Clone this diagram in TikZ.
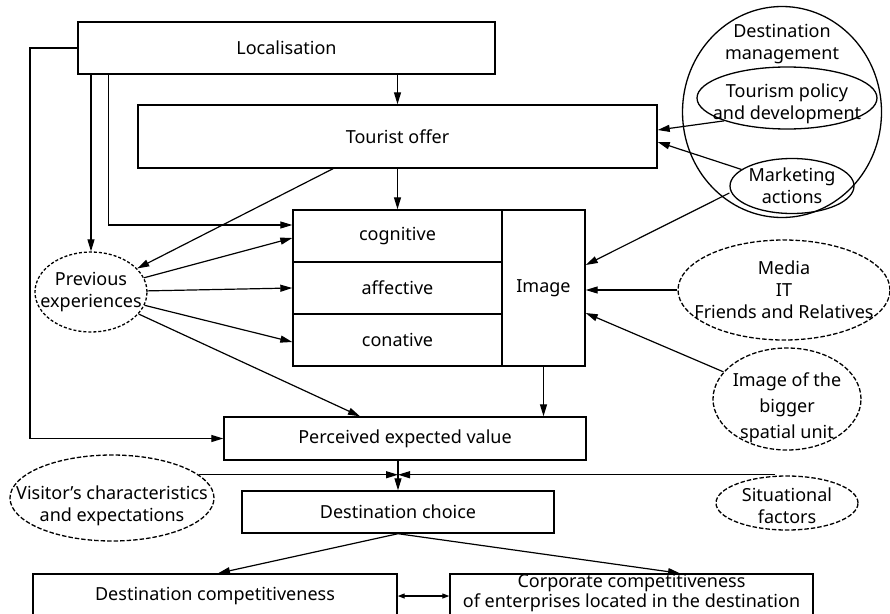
\documentclass[tikz,border=0pt]{standalone}
\usepackage{fontspec}
\setmainfont{Noto Sans}
\usetikzlibrary{shapes.geometric}
\usetikzlibrary{arrows.meta}

\tikzset{
  box/.style={draw, line width=1.4pt, inner sep=0pt, align=center},
  oval/.style={draw, ellipse, line width=1.3pt, inner sep=0pt},
  dashoval/.style={oval, dash pattern=on 4.5pt off 2pt},
  dotoval/.style={oval, dash pattern=on 3pt off 2pt},
  txt/.style={align=center, inner sep=0pt},
  arr/.style={line width=1.2pt, -{Triangle[length=12pt,width=7pt]}},
  darr/.style={line width=1.2pt, {Triangle[length=7pt,width=5pt]}-{Triangle[length=7pt,width=5pt]}},
}

\begin{document}
\begin{tikzpicture}[x=1pt, y=-1pt, font=\fontsize{18}{22}\selectfont]
  \useasboundingbox (0,0) rectangle (890,613);
  \clip (0,0) rectangle (890,613);

  \node[box, minimum width=417pt, minimum height=52pt] (loc) at (286.5,48) {Localisation};
  \node[box, minimum width=519pt, minimum height=63pt] (offer) at (397.5,136.5) {Tourist offer};
  \node[box, minimum width=209pt, minimum height=52pt] (cog) at (397.5,236) {cognitive};
  \node[box, minimum width=209pt, minimum height=52pt] (aff) at (397.5,288) {affective};
  \node[box, minimum width=209pt, minimum height=52pt] (con) at (397.5,340) {conative};
  \node[box, minimum width=83pt, minimum height=156pt] (img) at (543.5,288) {Image};
  \node[box, minimum width=362pt, minimum height=43pt] (pev) at (405,438.5) {Perceived expected value};
  \node[box, minimum width=312pt, minimum height=42pt] (dch) at (398,512) {Destination choice};
  \node[box, minimum width=364pt, minimum height=44pt] (dcomp) at (215,596) {Destination competitiveness};
  \node[box, minimum width=363pt, minimum height=44pt,
    label={[txt,yshift=3pt,font=\fontsize{18}{18}\selectfont]center:Corporate competitiveness\\of enterprises located in the destination}] (corp) at (631.5,596) {};

  \node[oval, minimum width=199pt, minimum height=211pt,
    label={[txt,yshift=68pt]center:Destination\\management}] (dm) at (782,112) {};
  \node[oval, minimum width=180pt, minimum height=62pt,
    label={[txt,yshift=-6pt]center:Tourism policy\\and development}] (policy) at (787,98) {};
  \node[oval, minimum width=124pt, minimum height=55pt,
    label={[txt]center:Marketing\\actions}] (mkt) at (792,186) {};
  \node[dotoval, minimum width=112pt, minimum height=80pt,
    label={[txt]center:Previous\\experiences}] (prev) at (91,292) {};
  \node[dashoval, minimum width=212pt, minimum height=100pt,
    label={[txt]center:Media\\IT\\Friends and Relatives}] (media) at (784,290) {};
  \node[dashoval, minimum width=148pt, minimum height=102pt,
    label={[txt,yshift=-9pt]center:Image of the\\[4pt]bigger\\[4pt]spatial unit}] (big) at (787,399) {};
  \node[dashoval, minimum width=204pt, minimum height=86pt,
    label={[txt,yshift=-8pt]center:Visitor’s characteristics\\and expectations}] (vis) at (112,498) {};
  \node[dashoval, minimum width=142pt, minimum height=54pt,
    label={[txt,yshift=-3pt]center:Situational\\factors}] (sit) at (787,503) {};

  \coordinate (lft) at (30,0);
  \coordinate (join) at (dch.north |- vis.15);
  \coordinate (sitl) at ([xshift=-12pt]sit.north);

  \draw[arr] (loc.south -| offer.north) -- (offer.north);
  \draw[arr] (offer.south) -- (cog.north);
  \draw[arr] (loc.west) -- (loc.west -| lft) |- (pev.west);
  \draw[arr] (loc.south -| prev.north) -- (prev.north);
  \draw[arr] ([xshift=31pt]loc.south west) |- ([yshift=11pt]cog.west);
  \draw[arr] ([xshift=-64.5pt]offer.south) -- (prev);
  \draw[arr] (prev) -- ([yshift=-2pt]cog.west);
  \draw[arr] (prev) -- (aff.west);
  \draw[arr] (prev) -- ([yshift=-2pt]con.west);
  \draw[arr] (prev) -- ([xshift=-45pt]pev.north);
  \draw[arr] (policy.200) -- ([yshift=6.5pt]offer.east);
  \draw[arr] (mkt) -- ([yshift=-5.5pt]offer.east);
  \draw[arr] ([yshift=-7pt]mkt.west) -- ([yshift=23pt]img.east);
  \draw[arr] (media.west) -- (media.west -| img.east);
  \draw[arr] (big) -- ([yshift=-25pt]img.east);
  \draw[arr] (img.south) -- (img.south |- pev.north);
  \draw[arr] (dch.north |- pev.south) -- (dch.north);
  \draw[arr] (vis.15) -- (join);
  \draw[arr] (sitl |- join) -- (join);
  \draw[arr] (dch.south) -- ([xshift=3pt]dcomp.north);
  \draw[arr] (dch.south) -- ([xshift=48.5pt]corp.north);
  \draw[darr] (dcomp.east) -- (corp.west);
\end{tikzpicture}
\end{document}
